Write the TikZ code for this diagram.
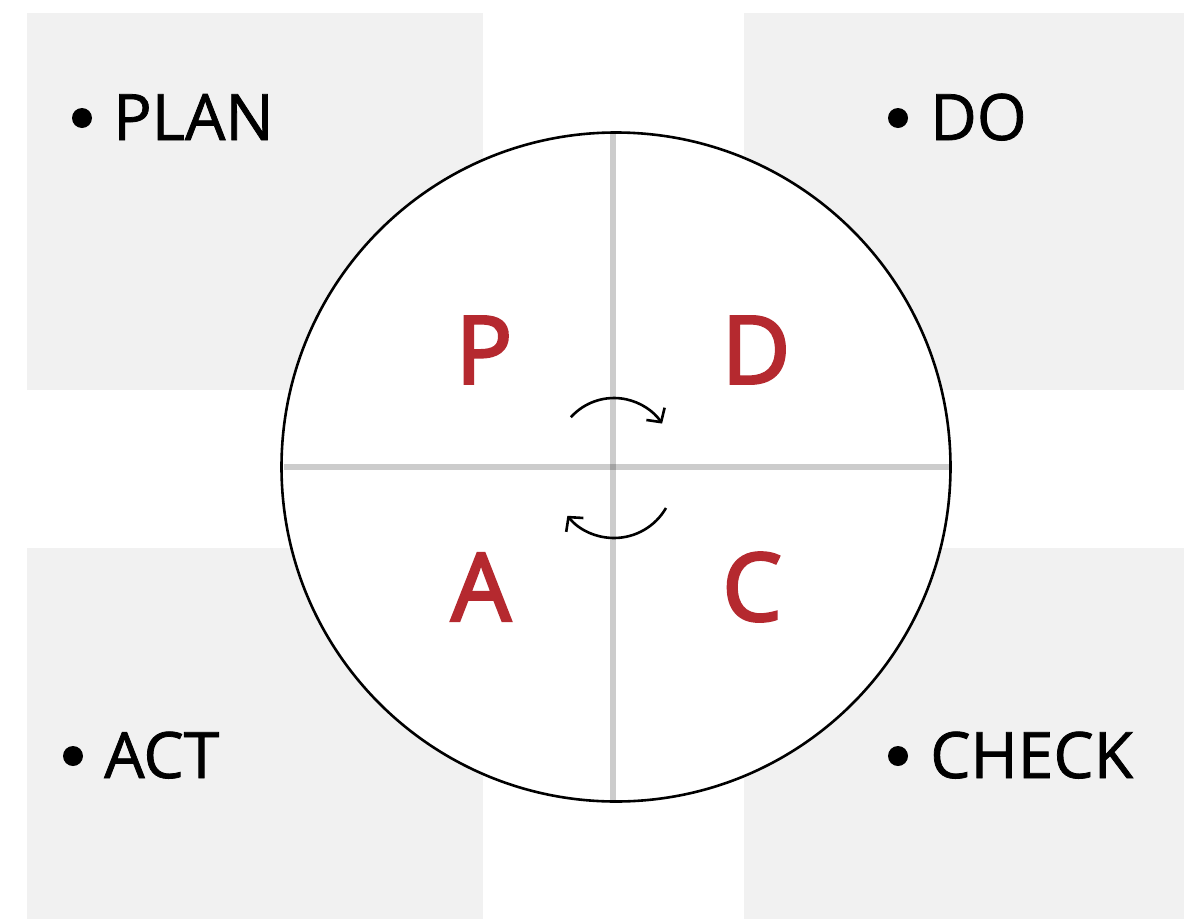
\documentclass[tikz,border=0pt]{standalone}
\usepackage{fontspec}
\setmainfont{Open Sans}
\newfontfamily\labelfont{Open Sans}[FakeBold=1.2]
\newfontfamily\letterfont{Open Sans}[FakeBold=3]
\usetikzlibrary{arrows.meta}
\definecolor{boxgray}{HTML}{F1F1F1}
\definecolor{pdcared}{HTML}{B5292F}
\begin{document}
\begin{tikzpicture}[x=1pt,y=-1pt,
  quad/.style={fill=boxgray,draw=none},
  crossline/.style={draw=black,draw opacity=0.2,line width=6.5pt},
  bigletter/.style={text=pdcared,font=\fontsize{94}{100}\letterfont,inner sep=0pt},
  label/.style={font=\fontsize{64}{70}\labelfont,anchor=base west,inner sep=0pt},
  bulletdot/.style={fill=black,circle,inner sep=0pt,minimum size=20pt},
  cyclearrow/.style={line width=2.6pt,-{Straight Barb[length=10pt,width=22pt,line width=2.6pt]}}]
\useasboundingbox (0,0) rectangle (1184,919);
\fill[white] (0,0) rectangle (1184,919);
% quadrant boxes
\path[quad] (27,13) rectangle (483,390);
\path[quad] (744,13) rectangle (1184,390);
\path[quad] (27,548) rectangle (483,919);
\path[quad] (744,548) rectangle (1184,919);
% circle
\node[circle,draw=black,fill=white,line width=2.6pt,minimum size=669pt,inner sep=0pt] (wheel) at (616,467) {};
% cross lines
\draw[crossline] (284,467) -- (949,467);
\draw[crossline] (613,134) -- (613,800);
% letters
\node[bigletter] (P) at (484,350) {P};
\node[bigletter] (D) at (756,350) {D};
\node[bigletter] (A) at (481,587) {A};
\node[bigletter] (C) at (752,587) {C};
% cycle arrows
\draw[cyclearrow] (614,456) ++(222:58) arc[start angle=222,end angle=326,radius=58];
\draw[cyclearrow] (614,478) ++(30:60) arc[start angle=30,end angle=141,radius=60];
% labels
\node[bulletdot] (b1) at (82,118) {};
\node[label] (plan) at (113,140) {PLAN};
\node[bulletdot] (b2) at (898,118) {};
\node[label] (do) at (930,140) {DO};
\node[bulletdot] (b3) at (73,756) {};
\node[label] (act) at (104,778) {ACT};
\node[bulletdot] (b4) at (898,756) {};
\node[label] (check) at (930,778) {CHECK};
\end{tikzpicture}
\end{document}
